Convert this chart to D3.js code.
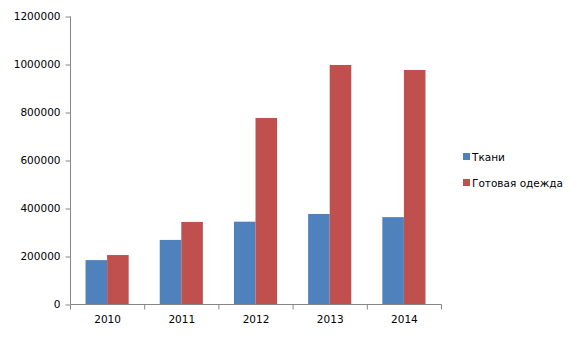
<!DOCTYPE html>
<html>
<head>
<meta charset="utf-8">
<script src="https://cdn.jsdelivr.net/npm/d3@7"></script>
<style>
  body { margin: 0; background: #fff; }
  text { font-family: "DejaVu Sans", Verdana, sans-serif; fill: #000; }
</style>
</head>
<body>
<svg id="chart" width="580" height="340"></svg>
<script>
// data
var years = ['2010', '2011', '2012', '2013', '2014'];
var seriesNames = ['Ткани', 'Готовая одежда'];
var tkani = [183000, 267000, 343000, 375000, 362000];
var odezhda = [204000, 342000, 775000, 996000, 975000];
var yTicks = [0, 200000, 400000, 600000, 800000, 1000000, 1200000];

var colors = ['#4F81BD', '#C0504D'];
var axisColor = '#868686';

var svg = d3.select('#chart');

var x0 = 70, x1 = 441, yTop = 16, yBottom = 304;

var x = d3.scaleBand()
    .domain(years)
    .range([x0, x1]);

var xInner = d3.scaleBand()
    .domain(seriesNames)
    .range([0, x.bandwidth()])
    .paddingOuter(0.72);

var y = d3.scaleLinear()
    .domain([0, 1200000])
    .range([yBottom, yTop]);

var rows = years.map(function (yr, i) {
    return { year: yr, values: [tkani[i], odezhda[i]] };
});

// bars
var groups = svg.selectAll('g.year')
    .data(rows)
    .enter().append('g')
    .attr('class', 'year')
    .attr('transform', function (d) { return 'translate(' + x(d.year) + ',0)'; });

groups.selectAll('rect')
    .data(function (d) {
        return d.values.map(function (v, j) { return { name: seriesNames[j], value: v, j: j }; });
    })
    .enter().append('rect')
    .attr('x', function (d) { return xInner(d.name); })
    .attr('width', xInner.bandwidth())
    .attr('y', function (d) { return y(d.value); })
    .attr('height', function (d) { return yBottom - y(d.value); })
    .attr('fill', function (d) { return colors[d.j]; });

// y axis
var yAxis = svg.append('g')
    .attr('transform', 'translate(' + (x0 + 0.5) + ',0.5)')
    .call(d3.axisLeft(y).tickValues(yTicks).tickSize(5).tickPadding(5).tickFormat(d3.format('d')));

// x axis
var xAxis = svg.append('g')
    .attr('transform', 'translate(0.5,' + (yBottom + 0.5) + ')')
    .call(d3.axisBottom(x).tickSize(0).tickPadding(11));

// category separators on x axis
var bounds = years.map(function (yr) { return x(yr); }).concat([x1]);
xAxis.selectAll('line.sep')
    .data(bounds)
    .enter().append('line')
    .attr('class', 'sep')
    .attr('x1', function (d) { return d; })
    .attr('x2', function (d) { return d; })
    .attr('y1', 0)
    .attr('y2', 5)
    .attr('stroke', axisColor);

[yAxis, xAxis].forEach(function (g) {
    g.select('.domain').attr('stroke', axisColor);
    g.selectAll('.tick line').attr('stroke', axisColor);
    g.selectAll('text')
        .style('font-family', '"DejaVu Sans", Verdana, sans-serif')
        .style('font-size', '10.5px')
        .attr('fill', '#000');
});
yAxis.select('.domain').attr('d', 'M0,' + (yTop) + 'V' + (yBottom));
xAxis.select('.domain').attr('d', 'M' + x0 + ',0H' + x1);

// legend
var legend = svg.append('g')
    .attr('transform', 'translate(463,153)');

var items = legend.selectAll('g')
    .data(seriesNames)
    .enter().append('g')
    .attr('transform', function (d, i) { return 'translate(0,' + (i * 26) + ')'; });

items.append('rect')
    .attr('width', 7)
    .attr('height', 7)
    .attr('fill', function (d, i) { return colors[i]; });

items.append('text')
    .attr('x', 9)
    .attr('y', 4)
    .attr('dy', '0.35em')
    .style('font-size', '10.5px')
    .text(function (d) { return d; });
</script>
</body>
</html>
